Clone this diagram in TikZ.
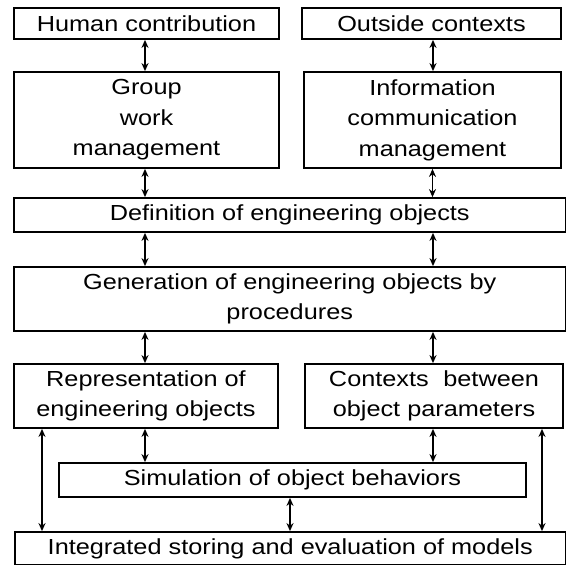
\documentclass[tikz,border=0pt]{standalone}
\usepackage{fontspec}
\setmainfont{Liberation Sans}
\usepackage{graphicx}
\usetikzlibrary{arrows.meta}
% horizontally widened text line
\newcommand\wide[1]{\scalebox{1.16}[1]{#1}}
\begin{document}
\begin{tikzpicture}[x=1pt,y=-1pt,
  box/.style={draw, line width=1.8pt, rectangle, inner sep=0pt, align=center,
              font=\fontsize{21.8}{30.5}\selectfont},
  link/.style={line width=1.6pt,
               {Stealth[length=8pt,width=7pt]}-{Stealth[length=8pt,width=7pt]}}]
\useasboundingbox (0,0) rectangle (566,565);

% columns used by the vertical links
\coordinate (cl) at (145,0);
\coordinate (cr) at (433,0);
\coordinate (cm) at (290,0);
\coordinate (el) at (42,0);
\coordinate (er) at (542,0);

% top row
\node[box, minimum width=265pt, minimum height=31pt] (hc) at (146.5,23.5) {\wide{Human contribution}};
\node[box, minimum width=259pt, minimum height=31pt] (oc) at (431.5,23.5) {\wide{Outside contexts}};

% management boxes
\node[box, minimum width=265pt, minimum height=96pt] (gw) at (146.5,120)
  {\wide{Group}\\\wide{work}\\\wide{management}};
\node[box, minimum width=257pt, minimum height=96pt] (ic) at (432.5,120)
  {\wide{Information}\\\wide{communication}\\\wide{management}};

% full-width boxes
\node[box, minimum width=551.5pt, minimum height=34pt] (def) at (289.75,215)
  {\wide{Definition of engineering objects}};
\node[box, minimum width=551.5pt, minimum height=64pt] (gen) at (289.75,299)
  {\wide{Generation of engineering objects by}\\\wide{procedures}};

% representation and contexts
\node[box, minimum width=264pt, minimum height=64pt] (rep) at (146,396)
  {\wide{Representation of}\\\wide{engineering objects}};
\node[box, minimum width=258pt, minimum height=64pt] (ctx) at (434,396)
  {\wide{Contexts\hspace{0.3em} between}\\\wide{object parameters}};

% simulation and storage
\node[box, minimum width=467pt, minimum height=34pt] (sim) at (292.5,480)
  {\wide{Simulation of object behaviors}};
\node[box, minimum width=550.5pt, minimum height=33pt] (int) at (290.25,548.5)
  {\wide{Integrated storing and evaluation of models}};

% links
\draw[link] (hc.south -| cl) -- (gw.north -| cl);
\draw[link] (oc.south -| cr) -- (ic.north -| cr);
\draw[link] (gw.south -| cl) -- (def.north -| cl);
\draw[link] (ic.south) -- (ic.south |- def.north);
\draw[link] (def.south -| cl) -- (gen.north -| cl);
\draw[link] (def.south -| cr) -- (gen.north -| cr);
\draw[link] (gen.south -| cl) -- (rep.north -| cl);
\draw[link] (gen.south -| cr) -- (ctx.north -| cr);
\draw[link] (rep.south -| cl) -- (sim.north -| cl);
\draw[link] (ctx.south -| cr) -- (sim.north -| cr);
\draw[link] (sim.south -| cm) -- (int.north -| cm);
\draw[link] (rep.south -| el) -- (int.north -| el);
\draw[link] (ctx.south -| er) -- (int.north -| er);
\end{tikzpicture}
\end{document}
